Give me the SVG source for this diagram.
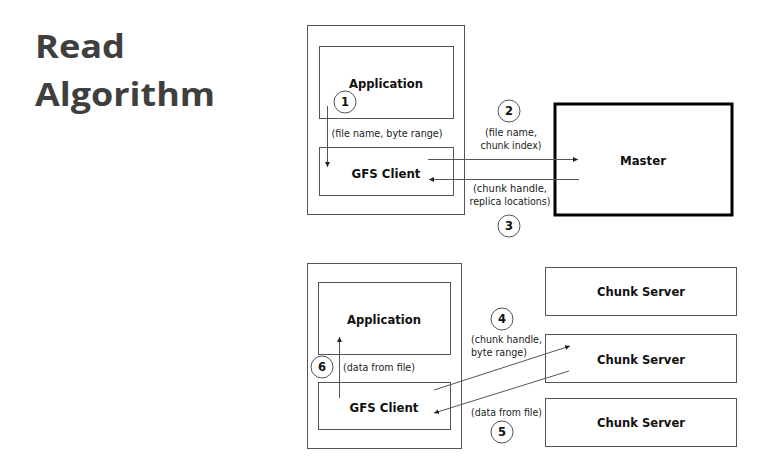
<svg xmlns="http://www.w3.org/2000/svg" width="773" height="469" viewBox="0 0 773 469">
<style>
.box{fill:#fff;stroke:#555;stroke-width:1}
.lbl{font-family:"DejaVu Sans",Verdana,sans-serif;font-weight:bold;font-size:13px;fill:#111;text-anchor:middle}
.sm{font-family:"DejaVu Sans",Verdana,sans-serif;font-size:11px;fill:#222}
.num{font-family:"DejaVu Sans",Verdana,sans-serif;font-weight:bold;font-size:11.5px;fill:#111;text-anchor:middle}
.circ{fill:#fff;stroke:#555;stroke-width:1}
.ln{stroke:#555;stroke-width:1;fill:none;marker-end:url(#ah)}
.title{font-family:"Open Sans","Noto Sans",sans-serif;font-weight:bold;font-size:33px;fill:#3f3f3f}
</style>
<defs>
<marker id="ah" viewBox="0 0 6 6" refX="6" refY="3" markerWidth="5" markerHeight="5" markerUnits="userSpaceOnUse" orient="auto">
<path d="M0,0L6,3L0,6z" fill="#222"/>
</marker>
</defs>
<rect width="773" height="469" fill="#fff"/>
<g id="title">
<text class="title" x="35" y="58" textLength="90" lengthAdjust="spacingAndGlyphs">Read</text>
<text class="title" x="35" y="106" textLength="180" lengthAdjust="spacingAndGlyphs">Algorithm</text>
</g>
<g id="client-top">
<rect class="box" x="307.5" y="25.5" width="157" height="189"/>
</g>
<g id="app-top">
<rect class="box" x="319.5" y="46.5" width="134" height="72"/>
<text class="lbl" x="386" y="87.5" textLength="74" lengthAdjust="spacingAndGlyphs">Application</text>
</g>
<g id="gfs-top">
<rect class="box" x="319.5" y="147.5" width="134" height="48"/>
<text class="lbl" x="386" y="177.5" textLength="69" lengthAdjust="spacingAndGlyphs">GFS Client</text>
</g>
<g id="master">
<rect x="555" y="104" width="177" height="111" fill="#fff" stroke="#000" stroke-width="3"/>
<text class="lbl" x="643" y="164.5" textLength="46" lengthAdjust="spacingAndGlyphs">Master</text>
</g>
<g id="client-bottom">
<rect class="box" x="307.5" y="263.5" width="154" height="185"/>
</g>
<g id="app-bottom">
<rect class="box" x="318.5" y="282.5" width="132" height="72"/>
<text class="lbl" x="384" y="323.5" textLength="74" lengthAdjust="spacingAndGlyphs">Application</text>
</g>
<g id="gfs-bottom">
<rect class="box" x="318.5" y="382.5" width="132" height="47"/>
<text class="lbl" x="384" y="411.5" textLength="69" lengthAdjust="spacingAndGlyphs">GFS Client</text>
</g>
<g id="cs1">
<rect class="box" x="545.5" y="267.5" width="191" height="48"/>
<text class="lbl" x="641" y="295.5" textLength="88" lengthAdjust="spacingAndGlyphs">Chunk Server</text>
</g>
<g id="cs2">
<rect class="box" x="545.5" y="334.5" width="191" height="48"/>
<text class="lbl" x="641" y="363.5" textLength="88" lengthAdjust="spacingAndGlyphs">Chunk Server</text>
</g>
<g id="cs3">
<rect class="box" x="545.5" y="398.5" width="191" height="48"/>
<text class="lbl" x="641" y="426.5" textLength="88" lengthAdjust="spacingAndGlyphs">Chunk Server</text>
</g>
<g id="connectors">
<line class="ln" x1="327.5" y1="106" x2="327.5" y2="167"/>
<line class="ln" x1="428" y1="159.5" x2="578" y2="159.5"/>
<line class="ln" x1="579" y1="179.5" x2="429" y2="179.5"/>
<line class="ln" x1="434" y1="390" x2="570" y2="346"/>
<line class="ln" x1="569" y1="371" x2="434" y2="413"/>
<line class="ln" x1="339.5" y1="398" x2="339.5" y2="337"/>
</g>
<g id="labels">
<circle class="circ" cx="345" cy="102" r="11"/>
<text class="num" x="345" y="106">1</text>
<text class="sm" x="387" y="137" text-anchor="middle" textLength="111" lengthAdjust="spacingAndGlyphs">(file name, byte range)</text>
<circle class="circ" cx="509" cy="111" r="11"/>
<text class="num" x="509" y="115">2</text>
<text class="sm" x="511" y="136" text-anchor="middle" textLength="52" lengthAdjust="spacingAndGlyphs">(file name,</text>
<text class="sm" x="511" y="149" text-anchor="middle" textLength="61" lengthAdjust="spacingAndGlyphs">chunk index)</text>
<text class="sm" x="510" y="192" text-anchor="middle" textLength="74" lengthAdjust="spacingAndGlyphs">(chunk handle,</text>
<text class="sm" x="510" y="205" text-anchor="middle" textLength="81" lengthAdjust="spacingAndGlyphs">replica locations)</text>
<circle class="circ" cx="509" cy="226" r="11"/>
<text class="num" x="509" y="230">3</text>
<circle class="circ" cx="502" cy="319" r="11"/>
<text class="num" x="502" y="323">4</text>
<text class="sm" x="471" y="343" textLength="71" lengthAdjust="spacingAndGlyphs">(chunk handle,</text>
<text class="sm" x="471" y="356" textLength="56" lengthAdjust="spacingAndGlyphs">byte range)</text>
<circle class="circ" cx="322" cy="367" r="11"/>
<text class="num" x="322" y="371">6</text>
<text class="sm" x="343" y="371" textLength="72" lengthAdjust="spacingAndGlyphs">(data from file)</text>
<text class="sm" x="471" y="416" textLength="71" lengthAdjust="spacingAndGlyphs">(data from file)</text>
<circle class="circ" cx="502" cy="432" r="11"/>
<text class="num" x="502" y="436">5</text>
</g>
</svg>
